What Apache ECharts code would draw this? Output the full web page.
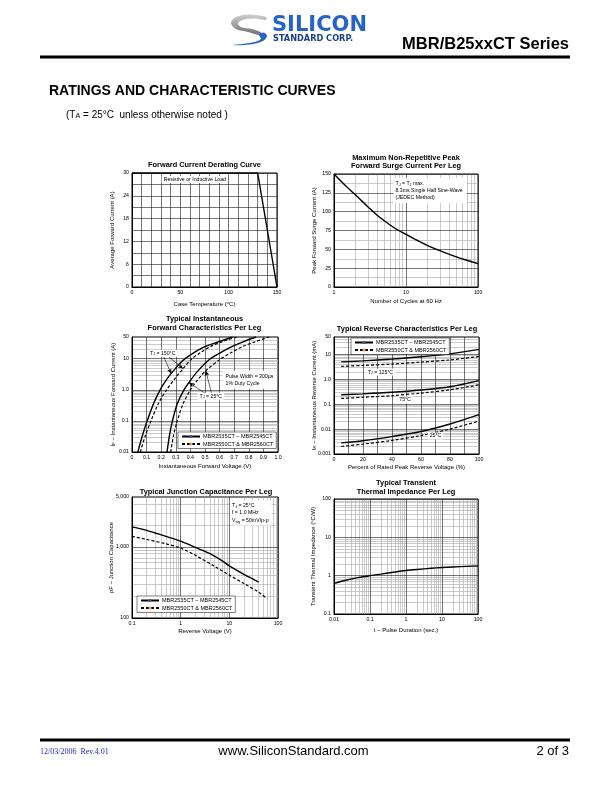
<!DOCTYPE html>
<html><head><meta charset="utf-8">
<script src="https://cdn.jsdelivr.net/npm/echarts@6.0.0/dist/echarts.min.js"></script>
<style>html,body{margin:0;padding:0;background:#fff;}#c{width:612px;height:792px;}</style>
</head><body><div id="c"></div>
<script>
// ---------- data ----------
const N1 = 'MBR2535CT – MBR2545CT';
const N2 = 'MBR2550CT & MBR2560CT';

// Forward current derating curve
const derateTempC = [0, 130, 150];
const derateAmps = [30, 30, 0];

// Max non-repetitive peak forward surge current
const surgeCycles = [1, 1.5, 2, 3, 4, 5, 7, 10, 15, 20, 30, 50, 70, 100];
const surgeAmps = [150, 133, 122, 106, 95, 88, 78, 70, 61, 55, 48, 40, 35.5, 31];

// Forward characteristics (V, A)
const vf150A = [0.04, 0.07, 0.10, 0.15, 0.20, 0.25, 0.30, 0.35, 0.40, 0.45, 0.50, 0.60, 0.69];
const if150A = [0.01, 0.032, 0.089, 0.38, 1.15, 2.6, 5.0, 8.9, 13.2, 18.6, 24.5, 36, 50];
const vf150B = [0.057, 0.09, 0.13, 0.18, 0.237, 0.30, 0.35, 0.41, 0.47, 0.54, 0.63, 0.72];
const if150B = [0.01, 0.032, 0.1, 0.355, 1.0, 2.5, 4.8, 10, 15.8, 25, 37, 50];
const vf25A = [0.24, 0.257, 0.277, 0.31, 0.356, 0.40, 0.45, 0.53, 0.61, 0.68, 0.76, 0.85];
const if25A = [0.01, 0.035, 0.1, 0.355, 1, 2, 4, 9.5, 16, 24, 35, 50];
const vf25B = [0.265, 0.285, 0.31, 0.35, 0.40, 0.45, 0.51, 0.61, 0.68, 0.76, 0.85, 0.94];
const if25B = [0.01, 0.035, 0.1, 0.355, 1, 2.1, 4.3, 10, 15.8, 25, 36, 50];

// Reverse characteristics (% of rated voltage, mA)
const revPct = [5, 20, 40, 60, 80, 100];
const ir125A = [5.0, 5.5, 6.5, 8.0, 10.5, 16];
const ir125B = [3.3, 3.6, 4.1, 4.9, 6.0, 8.3];
const ir75A = [0.24, 0.26, 0.30, 0.37, 0.50, 0.88];
const ir75B = [0.17, 0.19, 0.22, 0.28, 0.38, 0.60];
const ir25A = [0.0028, 0.0034, 0.005, 0.008, 0.016, 0.038];
const ir25B = [0.002, 0.0025, 0.0035, 0.0055, 0.010, 0.021];

// Junction capacitance (V, pF)
const capVA = [0.1, 0.2, 0.3, 0.5, 1, 2, 4, 7, 10, 20, 40];
const capPFA = [1900, 1700, 1560, 1400, 1200, 980, 800, 640, 540, 410, 320];
const capVB = [0.1, 0.2, 0.5, 1, 2, 5, 10, 20, 40, 60];
const capPFB = [1400, 1270, 1100, 960, 760, 530, 400, 305, 230, 185];

// Transient thermal impedance (s, °C/W)
const pulseSec = [0.01, 0.02, 0.05, 0.1, 0.2, 0.5, 1, 2, 5, 10, 20, 50, 100];
const zthCW = [0.63, 0.75, 0.9, 1.0, 1.1, 1.25, 1.36, 1.45, 1.56, 1.63, 1.69, 1.75, 1.8];

// Tick labels
const surgeXTicks = [1, 10, 100];
const surgeYMinor = [12.5, 37.5, 62.5, 87.5, 112.5, 137.5];
const fwdYTicks = [0.01, 0.1, 1, 10, 50];
const revYTicks = [0.001, 0.01, 0.1, 1, 10, 50];
const capXTicks = [0.1, 1, 10, 100];
const capYTicks = [100, 1000, 5000];
const zthXTicks = [0.01, 0.1, 1, 10, 100];
const zthYTicks = [0.1, 1, 10, 100];

// ---------- helpers ----------
const FONT = '"Liberation Sans", Arial, Helvetica, sans-serif';
const SUB = { fontSize: 4.3, fontFamily: FONT, verticalAlign: 'bottom', color: '#000' };
const lin = (stops) => ({ type: 'linear', x: 0, y: 0, x2: 0, y2: 1, colorStops: stops });

function logMinors(min, max) {
  const out = [];
  for (let e = Math.floor(Math.log10(min)) - 1; e <= Math.ceil(Math.log10(max)); e++) {
    for (let m = 2; m <= 9; m++) {
      const v = Number((m * Math.pow(10, e)).toPrecision(6));
      if (v > min * 1.0001 && v < max * 0.9999) out.push(v);
    }
  }
  return out;
}
function logMajors(min, max) {
  const out = [];
  for (let e = Math.ceil(Math.log10(min) - 1e-9); e <= Math.floor(Math.log10(max) + 1e-9); e++) {
    out.push(Number(Math.pow(10, e).toPrecision(6)));
  }
  return out;
}

function axes(dim, gi, o) {
  const isX = dim === 'x';
  const main = {
    type: o.type || 'value', gridIndex: gi, min: o.min, max: o.max,
    position: isX ? 'bottom' : 'left', z: 3,
    axisLine: { show: true, onZero: false, lineStyle: { color: '#000', width: 1 } },
    axisTick: { show: false },
    axisLabel: { fontSize: 5.2, fontFamily: FONT, color: '#000', margin: 3,
      formatter: o.fmt || (v => String(v)) },
    splitLine: { show: true, lineStyle: { color: '#1a1a1a', width: 0.6 } },
    name: o.name, nameLocation: 'middle', nameGap: o.gap, nameMoveOverlap: false,
    nameTextStyle: { fontSize: 6, fontFamily: FONT, color: '#000', rich: { s: SUB } }
  };
  if (o.interval != null) main.interval = o.interval;
  if (o.labels) main.axisLabel.customValues = o.labels;
  if (o.major) main.axisTick.customValues = o.major;
  const hasMinor = !!(o.minor && o.minor.length);
  const minor = {
    type: o.type || 'value', gridIndex: gi, min: o.min, max: o.max,
    position: isX ? 'bottom' : 'left', z: 2,
    axisLine: { show: false },
    axisTick: { show: false, customValues: hasMinor ? o.minor : [] },
    axisLabel: { show: false },
    splitLine: { show: hasMinor, lineStyle: { color: '#a8a8a8', width: 0.6 } }
  };
  return [main, minor];
}

function ser(gi, xs, ys, dashed, name, smooth) {
  return {
    type: 'line', name: name, xAxisIndex: 2 * gi, yAxisIndex: 2 * gi,
    data: xs.map((x, i) => [x, ys[i]]),
    showSymbol: false, symbol: 'none', silent: true,
    smooth: smooth === false ? false : 0.3,
    lineStyle: { color: '#000', width: dashed ? 1.2 : 1.4, type: dashed ? [3, 2] : 'solid' },
    z: 5
  };
}

const grids = [
  { left: 132, top: 173, width: 145, height: 114 },
  { left: 334, top: 174, width: 144, height: 113 },
  { left: 132, top: 337, width: 146, height: 115 },
  { left: 334, top: 337, width: 145, height: 117 },
  { left: 132, top: 497, width: 146, height: 121 },
  { left: 334, top: 499, width: 144, height: 115 }
].map(g => Object.assign({ show: true, borderColor: '#000', borderWidth: 1, backgroundColor: 'transparent' }, g));

const fmtLogDec = v => (v === 1 ? '1.0' : String(v));
const fmtThousands = v => (v >= 1000 ? String(v).replace(/\B(?=(\d{3})+(?!\d))/g, ',') : String(v));

const X = [], Y = [];
// 1 derating
X.push(...axes('x', 0, { min: 0, max: 150, interval: 10, fmt: v => (v % 50 === 0 ? String(v) : ''),
  name: 'Case Temperature (°C)', gap: 14 }));
Y.push(...axes('y', 0, { min: 0, max: 30, interval: 3, fmt: v => (v % 6 === 0 ? String(v) : ''),
  name: 'Average Forward Current (A)', gap: 17 }));
// 2 surge
X.push(...axes('x', 1, { type: 'log', min: 1, max: 100, labels: surgeXTicks, major: logMajors(1, 100),
  minor: logMinors(1, 100), name: 'Number of Cycles at 60 Hz', gap: 11 }));
Y.push(...axes('y', 1, { min: 0, max: 150, interval: 25, minor: surgeYMinor,
  name: 'Peak Forward Surge Current (A)', gap: 17 }));
// 3 forward
X.push(...axes('x', 2, { min: 0, max: 1, interval: 0.1,
  fmt: v => (Math.abs(v) < 1e-9 ? '0' : Number(v).toFixed(1)),
  name: 'Instantaneous Forward Voltage (V)', gap: 11 }));
Y.push(...axes('y', 2, { type: 'log', min: 0.01, max: 50, labels: fwdYTicks, major: logMajors(0.01, 50),
  minor: logMinors(0.01, 50), fmt: fmtLogDec,
  name: 'I{s|F} – Instantaneous Forward Current (A)', gap: 16 }));
// 4 reverse
X.push(...axes('x', 3, { min: 0, max: 100, interval: 10, fmt: v => (v % 20 === 0 ? String(v) : ''),
  name: 'Percent of Rated Peak Reverse Voltage (%)', gap: 10 }));
Y.push(...axes('y', 3, { type: 'log', min: 0.001, max: 50, labels: revYTicks, major: logMajors(0.001, 50),
  minor: logMinors(0.001, 50), fmt: fmtLogDec,
  name: 'I{s|R} – Instantaneous Reverse Current (mA)', gap: 17 }));
// 5 capacitance
X.push(...axes('x', 4, { type: 'log', min: 0.1, max: 100, labels: capXTicks, major: logMajors(0.1, 100),
  minor: logMinors(0.1, 100), name: 'Reverse Voltage (V)', gap: 10 }));
Y.push(...axes('y', 4, { type: 'log', min: 100, max: 5000, labels: capYTicks, major: logMajors(100, 5000),
  minor: logMinors(100, 5000), fmt: fmtThousands, name: 'pF – Junction Capacitance', gap: 17.5 }));
// 6 thermal
X.push(...axes('x', 5, { type: 'log', min: 0.01, max: 100, labels: zthXTicks, major: logMajors(0.01, 100),
  minor: logMinors(0.01, 100), name: 't – Pulse Duration (sec.)', gap: 13 }));
Y.push(...axes('y', 5, { type: 'log', min: 0.1, max: 100, labels: zthYTicks, major: logMajors(0.1, 100),
  minor: logMinors(0.1, 100), name: 'Transient Thermal Impedance (°C/W)', gap: 18 }));

const arrowLine = (pairs) => ({
  silent: true, symbol: ['none', 'arrow'], symbolSize: [3.5, 5],
  label: { show: false }, lineStyle: { color: '#000', width: 0.6, type: 'solid' },
  data: pairs.map(p => [{ coord: p[0] }, { coord: p[1] }])
});

const series = [
  ser(0, derateTempC, derateAmps, false, 'derate', false),
  ser(1, surgeCycles, surgeAmps, false, 'surge'),
  Object.assign(ser(2, vf150A, if150A, false, N1), {
    markLine: arrowLine([
      [[0.218, 11.3], [0.269, 3.3]],
      [[0.253, 11.3], [0.35, 4.8]],
      [[0.5, 0.78], [0.39, 1.7]],
      [[0.545, 0.78], [0.505, 4.1]]
    ])
  }),
  ser(2, vf150B, if150B, true, N2),
  ser(2, vf25A, if25A, false, N1),
  ser(2, vf25B, if25B, true, N2),
  ser(3, revPct, ir125A, false, N1),
  ser(3, revPct, ir125B, true, N2),
  ser(3, revPct, ir75A, false, N1),
  ser(3, revPct, ir75B, true, N2),
  ser(3, revPct, ir25A, false, N1),
  ser(3, revPct, ir25B, true, N2),
  ser(4, capVA, capPFA, false, N1),
  ser(4, capVB, capPFB, true, N2),
  ser(5, pulseSec, zthCW, false, 'zth')
];

function legendAt(left, top) {
  return {
    data: [N1, N2], left: left, top: top, orient: 'vertical', selectedMode: false,
    itemWidth: 18, itemHeight: 4, itemGap: 1.5, padding: [1.5, 3, 1.5, 3],
    textStyle: { fontSize: 5.5, fontFamily: FONT, color: '#000', padding: [0, 0, 0, -2] },
    backgroundColor: '#fff', borderColor: '#000', borderWidth: 0.5, z: 8
  };
}

const chart = echarts.init(document.getElementById('c'), null, { renderer: 'canvas', width: 612, height: 792 });
chart.setOption({
  animation: false,
  backgroundColor: '#fff',
  grid: grids,
  xAxis: X,
  yAxis: Y,
  legend: [legendAt(178, 432), legendAt(351, 338), legendAt(137, 596)],
  series: series
});

// ---------- text / decoration ----------
function T(x, y, text, o) {
  o = o || {};
  const st = {
    text: text, fill: o.color || '#000',
    fontSize: o.size || 6, fontFamily: o.family || FONT, fontWeight: o.weight || 'normal',
    align: o.align || 'left', verticalAlign: o.va || 'middle',
    textAlign: o.align || 'left', textVerticalAlign: o.va || 'middle',
    rich: { s: Object.assign({}, SUB, { fontSize: (o.size || 6) * 0.72, fontFamily: o.family || FONT }) }
  };
  if (o.lineHeight) st.lineHeight = o.lineHeight;
  if (o.bg) { st.backgroundColor = o.bg; st.padding = o.pad || [1, 2]; }
  return { type: 'text', x: x, y: y, silent: true, z: 100, style: st };
}
const px = (gi, x, y) => chart.convertToPixel({ xAxisIndex: 2 * gi, yAxisIndex: 2 * gi }, [x, y]);
function A(gi, x, y, text, o) { const p = px(gi, x, y); return T(p[0], p[1], text, o); }

const TITLE = { size: 7.4, weight: 'bold', align: 'center' };
const NOTE = { size: 5.2, bg: '#fff' };

const g = [
  // header logo
  { type: 'polygon', silent: true,
    shape: { smooth: 0.35, points: [[266, 17], [250, 14.5], [236, 17], [231, 23], [236, 29], [248, 32], [259, 35], [262, 33], [252, 29], [241, 27], [238, 23], [244, 19.5], [256, 18.5], [266, 20]] },
    style: { fill: lin([{ offset: 0, color: '#d0d0d0' }, { offset: 1, color: '#707070' }]) } },
  { type: 'polygon', silent: true,
    shape: { smooth: 0.35, points: [[259, 35], [261, 39], [252, 42.5], [233, 45], [250, 44.5], [263, 41], [267, 36], [264, 32.5], [262, 33]] },
    style: { fill: '#2a62c6' } },
  T(272, 25.5, 'SILICON', { size: 21, weight: 'bold', family: '"DejaVu Sans", sans-serif', color: '#2563c9' }),
  T(273, 38.5, 'STANDARD CORP.', { size: 8.2, weight: 'bold', family: '"DejaVu Sans", sans-serif', color: '#1b3f8f' }),
  T(569, 44, 'MBR/B25xxCT Series', { size: 16.5, weight: 'bold', align: 'right' }),
  { type: 'rect', silent: true, shape: { x: 40, y: 55.5, width: 530, height: 3 }, style: { fill: '#000' } },
  T(49, 91, 'RATINGS AND CHARACTERISTIC CURVES', { size: 14, weight: 'bold' }),
  T(66, 115, '(T{s|A} = 25°C  unless otherwise noted )', { size: 10 }),
  // footer
  { type: 'rect', silent: true, shape: { x: 40, y: 738.5, width: 530, height: 3 }, style: { fill: '#000' } },
  T(40, 752, '12/03/2006  Rev.4.01', { size: 8, family: '"Liberation Serif", "Times New Roman", serif', color: '#2424d6' }),
  T(293.5, 751, 'www.SiliconStandard.com', { size: 13, align: 'center' }),
  T(569, 751, '2 of 3', { size: 13, align: 'right' }),
  // chart titles
  T(204.5, 164.5, 'Forward Current Derating Curve', TITLE),
  T(406, 157.5, 'Maximum Non-Repetitive Peak', TITLE),
  T(406, 165.5, 'Forward Surge Current Per Leg', TITLE),
  T(204.5, 319, 'Typical Instantaneous', TITLE),
  T(204.5, 327.5, 'Forward Characteristics Per Leg', TITLE),
  T(407, 328.5, 'Typical Reverse Characteristics Per Leg', TITLE),
  T(206, 492, 'Typical Junction Capacitance Per Leg', TITLE),
  T(406, 483, 'Typical Transient', TITLE),
  T(406, 491.5, 'Thermal Impedance Per Leg', TITLE),
  // in-chart notes (anchored in data coordinates)
  A(0, 65, 28.3, 'Resistive or Inductive Load', Object.assign({ align: 'center' }, NOTE)),
  A(1, 6.7, 128, 'T{s|J} = T{s|J} max.\n8.3ms Single Half Sine-Wave\n(JEDEC Method)', Object.assign({ lineHeight: 7 }, NOTE, { pad: [2, 4, 2, 2] })),
  A(2, 0.21, 15, 'T{s|J} = 150°C', Object.assign({ align: 'center' }, NOTE)),
  A(2, 0.54, 0.62, 'T{s|J} = 25°C', Object.assign({ align: 'center' }, NOTE)),
  A(2, 0.62, 2.1, 'Pulse Width = 300µs\n1% Duty Cycle', Object.assign({ lineHeight: 7 }, NOTE, { pad: [2, 3] })),
  A(3, 32, 1.95, 'T{s|J} = 125°C', Object.assign({ align: 'center' }, NOTE)),
  A(3, 49, 0.148, '75°C', Object.assign({ align: 'center' }, NOTE)),
  A(3, 70, 0.0053, '25°C', Object.assign({ align: 'center' }, NOTE)),
  A(4, 10.3, 2980, 'T{s|J} = 25°C\nf = 1.0 MHz\nV{s|sig} = 50mV/p-p', Object.assign({ lineHeight: 7.6 }, NOTE, { pad: [1, 3, 1, 2] }))
];

chart.setOption({ graphic: { elements: g } });
</script></body></html>
